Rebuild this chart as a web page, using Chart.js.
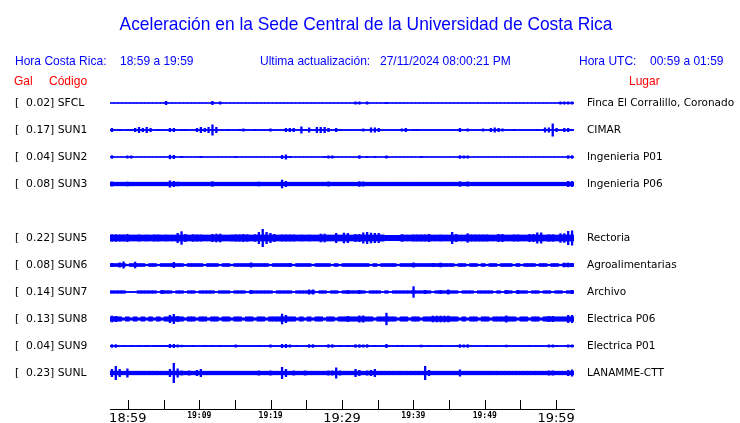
<!DOCTYPE html>
<html>
<head>
<meta charset="utf-8">
<script src="https://cdn.jsdelivr.net/npm/chart.js@4.4.0/dist/chart.umd.min.js"></script>
<style>
  body { margin: 0; background: #fff; }
  #wrap { position: relative; width: 740px; height: 423px; }
  #c { position: absolute; left: 0; top: 0; }
  .t { position: absolute; white-space: pre; font-family: "Liberation Sans", Arial, sans-serif; font-size: 13.5px; line-height: 13.5px; color: #0000ff; transform: scaleX(0.89); transform-origin: 0 0; }
  .r { color: #ff0000; }
  #title { left: 0; width: 732px; text-align: center; top: 14px; font-size: 19px; line-height: 19px; transform: scaleX(0.915); transform-origin: 366px 0; }
</style>
</head>
<body>
<div id="wrap">
  <canvas id="c" width="740" height="423"></canvas>
  <div class="t" id="title">Aceleración en la Sede Central de la Universidad de Costa Rica</div>
  <div class="t" style="left:15px;top:54px">Hora Costa Rica:</div>
  <div class="t" style="left:120px;top:54px">18:59 a 19:59</div>
  <div class="t" style="left:260px;top:54px">Ultima actualización:</div>
  <div class="t" style="left:380px;top:54px">27/11/2024 08:00:21 PM</div>
  <div class="t" style="left:579px;top:54px">Hora UTC:</div>
  <div class="t" style="left:650px;top:54px">00:59 a 01:59</div>
  <div class="t r" style="left:14px;top:74px">Gal</div>
  <div class="t r" style="left:49px;top:74px">Código</div>
  <div class="t r" style="left:629px;top:74px">Lugar</div>
</div>
<script>
// stations, top to bottom (row 4 is left empty like the original)
const CODES  = ['SFCL', 'SUN1', 'SUN2', 'SUN3', 'SUN5', 'SUN6', 'SUN7', 'SUN8', 'SUN9', 'SUNL'];
const GAL    = [0.02, 0.17, 0.04, 0.08, 0.22, 0.08, 0.14, 0.13, 0.04, 0.23];
const PLACES = ['Finca El Corralillo, Coronado', 'CIMAR', 'Ingenieria P01', 'Ingenieria P06',
                'Rectoria', 'Agroalimentarias', 'Archivo', 'Electrica P06', 'Electrica P01', 'LANAMME-CTT'];
const ROWS   = [0, 1, 2, 3, 5, 6, 7, 8, 9, 10];
// quiet level of each trace (half amplitude)
const BASE   = [.5, .6, .5, 1.8, 3, 1.5, 1.3, 2.2, .6, 1.8];

// time axis (minutes from 18:59)
const TIME_LABELS = ['18:59', '19:09', '19:19', '19:29', '19:39', '19:49', '19:59'];
const BIG_LABELS  = ['18:59', '19:29', '19:59'];

// trace envelopes, half amplitude per 30 s slot (120 slots)
const SFCL = [
  .5,.5,.5,.5,.5,.5,.5,.5,.5,.5,  .5,.5,.5,.5,2,.5,.5,.5,.5,.5,
  .5,.5,.5,.5,.5,.5,2,.5,1.5,.5,  .5,.5,.5,.5,.5,.5,.5,.5,.5,.5,
  .5,.5,.5,.5,.5,.5,.5,.5,.5,.5,  .5,.5,.5,.5,.5,.5,.5,.5,.5,.5,
  .5,.5,.5,1.5,1.5,.5,1.5,.5,.5,.5,  .5,1,.5,.5,.5,.5,.5,.5,.5,.5,
  .5,.5,.5,.5,.5,.5,.5,.5,.5,.5,  .5,.5,.5,.5,.5,.5,.5,.5,.5,.5,
  .5,.5,.5,.5,.5,.5,.5,.5,.5,.5,  .5,.5,.5,.5,.5,.5,1.5,1.5,1.5,1.5];
const SUN1 = [
  2,.6,1,.6,1,1,2,3,2,3,  2,.6,1,.6,.6,2,2,.6,1,1,
  .6,.6,2,3,2,3,5.5,3,.6,.6,  1,.6,.6,1,1.5,.6,.6,1,.6,.6,
  .6,1.5,.6,.6,.6,2,2,2,.6,3.5,  1,2.5,.6,3,3,3,2,.6,2,1,
  .6,.6,.6,.6,.6,1.5,.6,2.5,2.5,2,  .6,.6,.6,.6,.6,1.5,2,.6,1,1,
  .6,.6,.6,.6,.6,.6,.6,.6,.6,.6,  2,.6,1.5,.6,.6,.6,1.5,.6,2,2.5,
  2,1.5,.6,.6,1,.6,.6,.6,.6,.6,  1,.6,2.5,2.5,6.5,2,.6,2,2,1];
const SUN2 = [
  1.7,.5,.5,.5,1.5,1.5,.5,.5,.5,.5,  .5,.5,.5,.5,.5,2.2,2,.5,1,.5,
  .5,.5,.5,1,.5,.5,.5,.5,.5,.5,  .5,.5,.9,.5,.5,.5,.5,.5,.5,.5,
  .5,.5,.5,.5,2,2.5,1,.5,.5,.5,  .5,.5,.5,.5,.5,.9,1.5,1.5,.5,.5,
  .5,.5,.5,.5,1.7,.5,.9,.5,.9,.5,  .5,1.5,.5,.5,.5,.5,.5,.5,.5,.5,
  .9,.5,.5,.5,.5,.5,.5,.5,.5,.5,  1.7,1.5,1.5,.5,.5,.5,.5,.5,.5,.5,
  .5,.5,.5,.5,.5,.5,.5,.5,.5,.5,  .5,.5,.5,.5,.5,.5,.5,.5,1.7,1.7];
const SUN3 = [
  2.5,1.8,1.8,1.8,2.3,1.8,1.8,1.8,1.8,1.8,  1.8,1.8,1.8,1.8,1.8,3.5,3,2.3,1.8,1.8,
  1.8,1.8,1.8,1.8,1.8,1.8,2.7,1.8,1.8,1.8,  1.8,1.8,1.8,1.8,1.8,1.8,1.8,1.8,2.3,1.8,
  1.8,1.8,1.8,1.8,4.3,3,1.8,1.8,1.8,1.8,  1.8,1.8,1.8,1.8,1.8,1.8,2.5,1.8,1.8,1.8,
  1.8,1.8,1.8,1.8,2.7,2.5,1.8,1.8,1.8,1.8,  1.8,1.8,1.8,1.8,1.8,1.8,1.8,1.8,1.8,1.8,
  1.8,1.8,1.8,1.8,1.8,1.8,1.8,1.8,1.8,1.8,  2.7,1.8,2.5,1.8,1.8,1.8,1.8,1.8,1.8,1.8,
  1.8,1.8,1.8,1.8,1.8,1.8,1.8,1.8,1.8,1.8,  1.8,1.8,1.8,1.8,1.8,1.8,1.8,1.8,3,3];
const SUN5 = [
  3.7,3.7,3.5,3.5,4,3,3,3.5,3,3.3,  3,3.5,3.5,3,3.3,3,3,5,6.7,4,
  3,3.7,3.5,3.5,3,3,4,4.3,4.3,3,  3,3.3,3.7,3.7,4,3.7,3,3.7,6,9,
  6,5,4,3,3.5,3.5,3.5,3.5,3,3.3,  3,3.3,3,3,4.3,4.3,3,3,5,3,
  5.3,5,3,4,4,5.5,6,5.3,5,5,  3.3,2.7,2.7,2.7,2.7,3.7,3,3,3.5,3.5,
  3.5,3.5,4,3,3,3.3,3,3,6,4,  3,3,4.7,3.5,3.5,3.5,3.5,3.5,3,3,
  4,4,3,3,3.5,3.5,3,3,4,4,  5.5,5.5,3,3.7,3.7,3,4.7,4.7,7,7.5];
const SUN6 = [
  2,1.5,2.5,3.5,.8,1.5,3.3,1.5,1.5,.8,  1.5,1.5,.8,1.5,1.5,1.5,3,1.5,1.5,.8,
  1.5,1.5,1.5,1.5,.8,1.5,1.5,1.5,.8,1.5,  1.5,.8,1.5,1.5,1.5,1.5,2.5,1.5,1.5,1.5,
  1.5,.8,1.5,1.5,1.5,1.5,2,.8,1.5,1.5,  1.5,1.5,.8,1.5,1.5,1.5,1.5,.8,1.5,.8,
  1.5,1.5,1.5,1.5,1.5,1.5,1.5,.8,1.5,.8,  1.5,1.5,1.5,1.5,.8,1.5,1.5,1.5,2.5,1.5,
  1.5,1.5,1.5,2,1.5,2.3,1.5,1.5,1.5,.8,  1.5,1.5,.8,1.5,1.5,.8,1.5,.8,1.5,1.5,
  .8,1.5,1.5,1.5,.8,1.5,.8,1.5,1.5,1.5,  .8,1.5,1.5,.8,1.5,1.5,.8,2.3,2.3,2];
const SUN7 = [
  1.3,1.3,1.3,1.3,.6,.6,.6,1.3,1.3,1.3,  1.3,1.3,.6,2,1.3,1.3,.6,1.3,1.3,.6,
  1.3,1.3,.6,1.3,1.3,1.3,1.3,.6,1.3,1.3,  1.3,.6,1.3,1.3,1.3,.6,2,1.3,1.3,1.3,
  1.3,1.3,.6,1.3,1.3,1.3,1.3,.6,1.3,1.3,  1.3,2.5,2.5,.6,1.3,1.3,.6,1.3,1.3,.6,
  1.3,1.8,1.3,1.3,2,1.3,.6,1.3,1.3,1.3,  .6,1.3,.6,1.3,1.3,1.3,1.3,1.3,5.7,1.3,
  1.3,2,1.3,.6,1.3,2,1.3,2.5,1.3,1.3,  .6,1.3,1.3,1.3,.6,1.3,1.3,1.3,1.3,.6,
  1.3,.6,2,1.3,.6,2,1.3,1.3,.6,1.3,  1.3,.6,1.3,1.3,.6,1.3,1.3,.6,1.3,2];
const SUN8 = [
  3.3,3,2.2,1.3,2.2,1.3,2.2,1.3,2.2,1.3,  2.2,1.3,2.2,1.3,2.2,4,5,3,2.2,1.3,
  2.2,2.2,1.3,2.2,2.2,1.3,2.2,2.2,1.3,2.2,  2.2,1.3,2.2,2.2,1.3,2.2,2.2,1.3,2.2,2.2,
  1.3,2.2,2.2,2.2,5.3,4,2.2,2.2,1.3,2.2,  1.3,2.2,1.3,2.2,2.2,1.3,2.2,2.2,1.3,2.2,
  2.2,3,2.2,2.2,3.5,3.5,2.2,2.2,1.3,2.2,  2.2,6.2,2.2,2.2,1.3,2.2,2.2,1.3,2.2,2.2,
  1.3,2.2,2.2,3.3,3.3,3.3,3.3,3.3,2.2,2.2,  1.3,2.2,1.3,2.2,2.2,1.3,2.2,2.2,1.3,2.2,
  2.2,2.2,3.5,2.2,2.2,1.3,2.2,2.2,1.3,2.2,  2.2,1.3,2.2,3,3,2.2,2.2,2.2,4,4];
const SUN9 = [
  1.7,1.7,.6,1,.6,.9,.6,1,.6,1,  .6,1,1,1,1,2,2,1.5,1.2,.6,
  .6,1,.6,.6,1,.6,1,.6,1,.6,  .6,.6,1.5,.6,.6,.6,.6,.6,.9,.6,
  .6,1.5,.6,.6,2,2,1.5,.6,.9,.6,  .6,1.7,1.7,.6,.6,.6,1.7,1.7,.6,1,
  .6,1,.6,1.7,1.7,1.5,1.7,.6,1,.6,  .6,2,.6,.6,.9,.9,.6,.6,.6,.6,
  1.3,.6,1,.6,.6,1,.6,.6,.6,.6,  1.7,1.5,1.7,.6,.6,.6,.6,1,.6,.6,
  .6,.6,1.3,.6,.6,.6,.6,.6,1,.6,  .6,.6,.6,1.5,1.5,1,.6,.6,1.5,1.5];
const SUNL = [
  4,7,4,1.8,4.5,1.8,1.8,1.8,1.8,1.8,  1.8,1.8,1.8,1.8,1.8,4,10,4.5,2.5,1.8,
  2.5,1.8,3,4,1.8,1.8,1.8,1.8,1.8,1.8,  1.8,1.8,1.8,2,1.8,1.8,1.8,1.8,2.5,1.8,
  1.8,2.5,1.8,1.8,6,4,1.8,2.5,1.8,1.8,  2.5,1.8,1.8,1.8,1.8,1.8,2.5,2.5,5.5,2.5,
  1.8,1.8,1.8,4,3,1.8,2.5,3,4,1.8,  1.8,1.8,1.8,1.8,1.8,1.8,1.8,2,1.8,1.8,
  1.8,7,3,1.8,1.8,2,1.8,1.8,1.8,1.8,  3.5,1.8,1.8,1.8,1.8,1.8,1.8,1.8,1.8,2,
  1.8,1.8,1.8,1.8,1.8,1.8,2,1.8,1.8,1.8,  1.8,1.8,1.8,2.5,2.5,1.8,1.8,1.8,3,3.5];

const TRACES = [SFCL, SUN1, SUN2, SUN3, SUN5, SUN6, SUN7, SUN8, SUN9, SUNL];
const GAIN = 27;   // amplitude units per row spacing

const slots = SFCL.map((_, i) => i);
const band = (row, a) => [row - a / GAIN, row + a / GAIN];

const datasets = [];
TRACES.forEach((amp, k) => {
    // continuous quiet band
    datasets.push({
        label: CODES[k],
        data: amp.map(a => band(ROWS[k], Math.min(a, BASE[k]))),
        backgroundColor: '#0000ff', borderWidth: 0, grouped: false,
        barPercentage: 1, categoryPercentage: 1, xAxisID: 'x', yAxisID: 'y'
    });
    // bursts above the quiet level, drawn as thin spikes
    datasets.push({
        label: CODES[k] + ' bursts',
        data: amp.map(a => a > BASE[k] ? band(ROWS[k], a) : null),
        backgroundColor: '#0000ff', borderWidth: 0, grouped: false,
        barPercentage: 0.6, categoryPercentage: 1, xAxisID: 'x', yAxisID: 'y'
    });
});

const rowLabel = (v, list) => {
    const k = ROWS.indexOf(v);
    return k < 0 ? '' : list(k);
};

// row labels must not push the plot area inwards
const noVPad = s => { s.paddingTop = 0; s.paddingBottom = 0; };

// tick marks of the time axis point up into the plot
const upTicks = {
    id: 'upTicks',
    afterDraw(chart) {
        const s = chart.scales.xt, ctx = chart.ctx;
        ctx.save();
        ctx.strokeStyle = '#000';
        ctx.lineWidth = 1;
        s.ticks.forEach(t => {
            const px = Math.round(s.getPixelForValue(t.value)) + 0.5;
            ctx.beginPath();
            ctx.moveTo(px, s.top);
            ctx.lineTo(px, s.top - 9);
            ctx.stroke();
        });
        ctx.restore();
    }
};

new Chart(document.getElementById('c'), {
    type: 'bar',
    data: { labels: slots, datasets },
    plugins: [upTicks],
    options: {
        responsive: false,
        animation: false,
        layout: { padding: { left: 15, right: 0, top: 76, bottom: 0 } },
        plugins: { legend: { display: false }, tooltip: { enabled: false } },
        scales: {
            x: { type: 'category', display: false, offset: true },
            xt: {
                type: 'linear', position: 'bottom', min: 0, max: 60,
                afterFit: s => { s.height = 14; },
                grid: { display: false, drawTicks: false },
                border: { display: true, color: '#000', width: 1 },
                ticks: {
                    stepSize: 5, autoSkip: false, maxRotation: 0, padding: 2, color: '#000',
                    callback: v => v % 10 === 0 ? TIME_LABELS[v / 10] : '',
                    font: ctx => {
                        const lab = ctx.tick && ctx.tick.value % 10 === 0 ? TIME_LABELS[ctx.tick.value / 10] : '';
                        return BIG_LABELS.includes(lab)
                            ? { family: 'DejaVu Sans', size: 13 }
                            : { family: 'DejaVu Sans Mono', size: 8, weight: 'bold' };
                    }
                }
            },
            y: {
                type: 'linear', position: 'left', reverse: true, min: -1, max: 11.333,
                afterBuildTicks: s => { s.ticks = ROWS.map(v => ({ value: v })); },
                afterFit: s => { s.width = 95; noVPad(s); },
                grid: { display: false, drawTicks: false },
                border: { display: false },
                ticks: {
                    crossAlign: 'far', padding: 0, color: '#000',
                    font: { family: 'DejaVu Sans', size: 10.8 },
                    callback: v => rowLabel(v, k => `[  ${GAL[k].toFixed(2)}] ${CODES[k]}`)
                }
            },
            y2: {
                type: 'linear', position: 'right', reverse: true, min: -1, max: 11.333,
                afterBuildTicks: s => { s.ticks = ROWS.map(v => ({ value: v })); },
                afterFit: s => { s.width = 166; noVPad(s); },
                grid: { display: false, drawTicks: false },
                border: { display: false },
                ticks: {
                    crossAlign: 'near', padding: 13, color: '#000',
                    font: { family: 'DejaVu Sans', size: 10.5 },
                    callback: v => rowLabel(v, k => PLACES[k])
                }
            }
        }
    }
});
</script>
</body>
</html>
